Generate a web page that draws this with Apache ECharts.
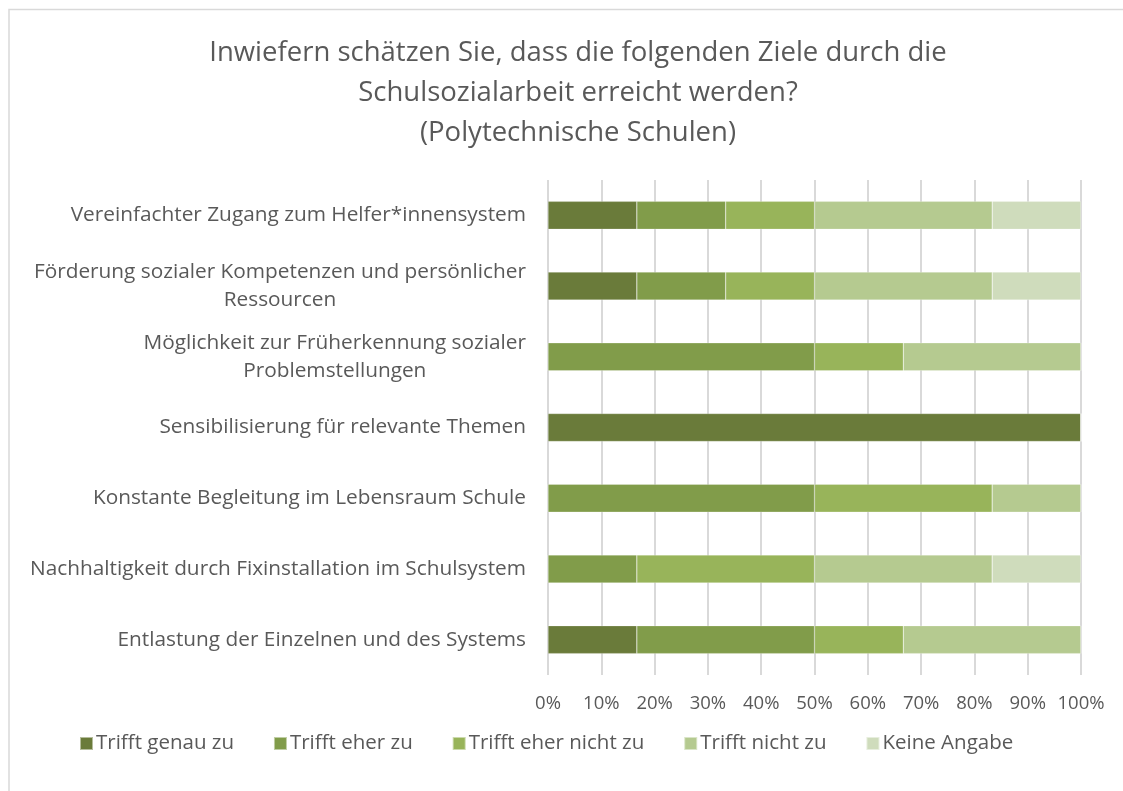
<!DOCTYPE html>
<html>
<head>
<meta charset="utf-8">
<script src="https://cdn.jsdelivr.net/npm/echarts@6/dist/echarts.min.js"></script>
<style>
  html, body { margin: 0; padding: 0; background: #fff; }
  #chart { width: 1123px; height: 791px; }
</style>
</head>
<body>
<div id="chart"></div>
<script>
// Ziele (von oben nach unten)
const categories = [
  'Vereinfachter Zugang zum Helfer*innensystem',
  'Förderung sozialer Kompetenzen und persönlicher\nRessourcen',
  'Möglichkeit zur Früherkennung sozialer\nProblemstellungen',
  'Sensibilisierung für relevante Themen',
  'Konstante Begleitung im Lebensraum Schule',
  'Nachhaltigkeit durch Fixinstallation im Schulsystem',
  'Entlastung der Einzelnen und des Systems'
];

// Anteile in Prozent je Antwortkategorie
const genauZu      = [16.67, 16.67, 0,     100, 0,     0,     16.67];
const eherZu       = [16.67, 16.67, 50,    0,   50,    16.67, 33.33];
const eherNichtZu  = [16.67, 16.67, 16.67, 0,   33.33, 33.33, 16.67];
const nichtZu      = [33.33, 33.33, 33.33, 0,   16.67, 33.33, 33.33];
const keineAngabe  = [16.66, 16.66, 0,     0,   0,     16.67, 0];

const seriesNames = ['Trifft genau zu', 'Trifft eher zu', 'Trifft eher nicht zu', 'Trifft nicht zu', 'Keine Angabe'];
const seriesData = [genauZu, eherZu, eherNichtZu, nichtZu, keineAngabe];
const colors = ['#6a7b3a', '#819c4a', '#98b45a', '#b5ca90', '#cfdcbc'];

const font = '"Open Sans", Lato, sans-serif';
const textColor = '#595959';

var chart = echarts.init(document.getElementById('chart'));

chart.setOption({
  animation: false,
  color: colors,
  title: {
    text: 'Inwiefern schätzen Sie, dass die folgenden Ziele durch die\nSchulsozialarbeit erreicht werden?\n(Polytechnische Schulen)',
    left: 573,
    top: 28,
    textAlign: 'center',
    textStyle: {
      fontFamily: font,
      fontWeight: 'normal',
      fontSize: 27.5,
      lineHeight: 40,
      color: textColor
    }
  },
  graphic: [{
    type: 'rect',
    shape: { x: 9, y: 9.5, width: 1200, height: 900 },
    style: { fill: 'none', stroke: '#d9d9d9', lineWidth: 1.5 },
    silent: true
  }],
  legend: {
    data: seriesNames,
    left: 74,
    top: 728,
    itemWidth: 13,
    itemHeight: 13,
    itemGap: 39,
    icon: 'rect',
    textStyle: { fontFamily: font, fontSize: 20.5, color: textColor, padding: [0, 0, 0, -2] }
  },
  grid: { left: 548, right: 42, top: 180, bottom: 116 },
  xAxis: {
    type: 'value',
    min: 0,
    max: 100,
    interval: 10,
    axisLine: { show: false },
    axisTick: { show: false },
    splitLine: { lineStyle: { color: '#d9d9d9', width: 2 } },
    axisLabel: {
      formatter: '{value}%',
      fontFamily: font,
      fontSize: 18.5,
      color: textColor,
      margin: 19
    }
  },
  yAxis: {
    type: 'category',
    inverse: true,
    data: categories,
    axisLine: { show: false },
    axisTick: { show: false },
    axisLabel: {
      margin: 22,
      align: 'right',
      formatter: function (v) {
        return v.split('\n').map(function (l) { return '{c|' + l + '}'; }).join('\n');
      },
      rich: {
        c: { align: 'center', fontFamily: font, fontSize: 20.8, lineHeight: 28, color: textColor }
      }
    }
  },
  series: seriesNames.map(function (name, i) {
    return {
      name: name,
      type: 'bar',
      stack: 'total',
      barWidth: 28,
      data: seriesData[i],
      itemStyle: { borderColor: 'rgba(255,255,255,0.5)', borderWidth: 0.5 }
    };
  })
});
</script>
</body>
</html>
